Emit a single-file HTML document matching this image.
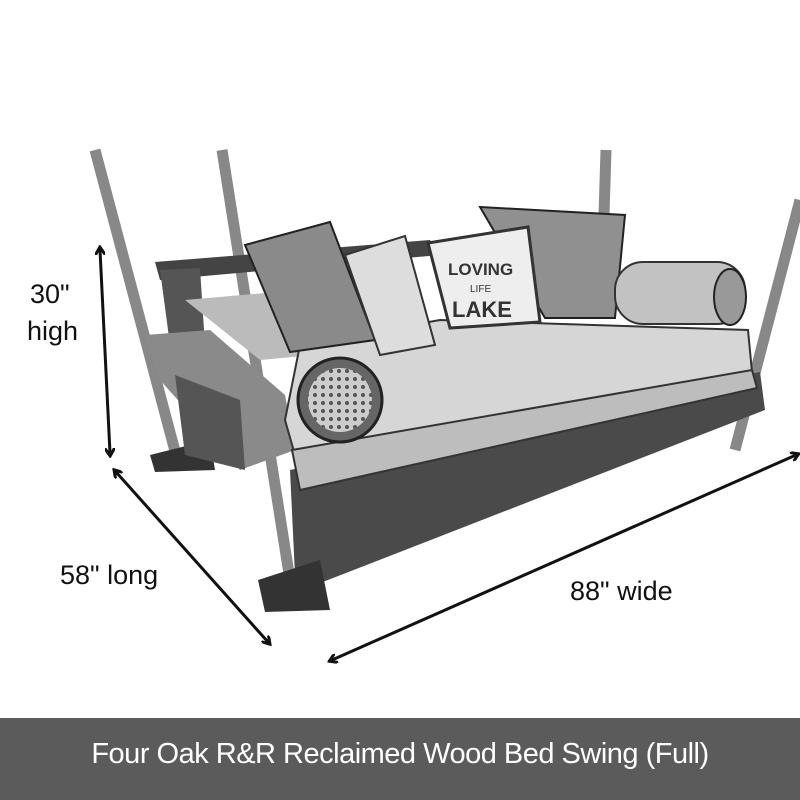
<!DOCTYPE html>
<html><head><style>
html,body{margin:0;padding:0;background:#fff;}
.wrap{position:relative;width:800px;height:800px;overflow:hidden;background:#fff;font-family:"Liberation Sans",sans-serif;}
.lbl{position:absolute;font-size:27px;color:#111;line-height:1;}
.bar{position:absolute;left:0;top:718px;width:800px;height:82px;background:#5b5b5b;color:#fff;font-size:29px;text-align:center;line-height:72px;letter-spacing:-0.5px;}
</style></head><body><div class="wrap">
<svg width="800" height="800" style="position:absolute;left:0;top:0">
<defs>
<marker id="a" markerWidth="10" markerHeight="10" refX="5" refY="5" orient="auto-start-reverse" markerUnits="userSpaceOnUse"><path d="M0,0 L8,5 L0,10" fill="none" stroke="#111" stroke-width="3"/></marker>
<pattern id="t" width="8" height="8" patternUnits="userSpaceOnUse"><rect width="8" height="8" fill="#ccc"/><circle cx="3" cy="3" r="2" fill="#555"/></pattern>
</defs>
<g stroke="#888" stroke-width="11" fill="none">
<path d="M95,150 L180,470"/><path d="M222,150 L290,580"/><path d="M606,150 L604,215"/><path d="M800,200 L735,450"/>
</g>
<polygon points="155,262 430,240 440,255 160,280" fill="#444"/>
<polygon points="160,270 200,268 205,345 170,345" fill="#555"/>
<!-- base frame -->
<polygon points="290,470 760,372 765,410 315,585 295,575" fill="#4a4a4a"/>
<polygon points="258,580 320,560 330,610 265,612" fill="#333"/>
<polygon points="150,455 210,440 215,470 155,472" fill="#333"/>
<!-- left arm -->
<polygon points="145,335 210,330 285,395 295,450 240,470 160,380" fill="#8a8a8a"/>
<polygon points="175,375 240,400 245,470 185,455" fill="#555"/>
<!-- back cushion -->
<polygon points="185,300 300,290 370,350 260,360" fill="#bbb"/>
<!-- seat cushion top -->
<polygon points="300,345 440,320 748,330 752,372 295,455 285,420" fill="#d6d6d6" stroke="#333" stroke-width="2"/>
<!-- front face -->
<polygon points="292,450 752,370 757,388 300,490" fill="#bdbdbd" stroke="#333" stroke-width="2"/>
<!-- pillows -->
<polygon points="245,245 330,222 375,340 290,352" fill="#8a8a8a" stroke="#222" stroke-width="2"/>
<polygon points="345,255 405,236 435,345 380,355" fill="#ddd" stroke="#333" stroke-width="2"/>
<polygon points="480,207 625,215 615,318 545,318" fill="#909090" stroke="#222" stroke-width="2"/>
<polygon points="428,243 528,227 540,322 450,328" fill="#eee" stroke="#333" stroke-width="3"/>
<text x="448" y="275" font-family="Liberation Sans" font-size="17" font-weight="bold" fill="#333">LOVING</text>
<text x="470" y="292" font-family="Liberation Sans" font-size="10" fill="#333">LIFE</text>
<text x="452" y="317" font-family="Liberation Sans" font-size="22" font-weight="bold" fill="#333">LAKE</text>
<rect x="615" y="262" width="130" height="62" rx="28" fill="#c2c2c2" stroke="#333" stroke-width="2"/>
<ellipse cx="730" cy="297" rx="16" ry="28" fill="#999" stroke="#222" stroke-width="2"/>
<ellipse cx="340" cy="400" rx="42" ry="42" fill="#666" stroke="#222" stroke-width="3"/>
<ellipse cx="340" cy="400" rx="32" ry="32" fill="url(#t)"/>
<g stroke="#111" stroke-width="3" fill="none">
<line x1="100" y1="250" x2="110" y2="453" marker-start="url(#a)" marker-end="url(#a)"/>
<line x1="116" y1="472" x2="268" y2="642" marker-start="url(#a)" marker-end="url(#a)"/>
<line x1="332" y1="660" x2="796" y2="455" marker-start="url(#a)" marker-end="url(#a)"/>
</g>
</svg>
<div class="lbl" style="left:30px;top:281px">30"</div>
<div class="lbl" style="left:27px;top:318px">high</div>
<div class="lbl" style="left:60px;top:562px">58" long</div>
<div class="lbl" style="left:570px;top:578px">88" wide</div>
<div class="bar">Four Oak R&amp;R Reclaimed Wood Bed Swing (Full)</div>
</div></body></html>
